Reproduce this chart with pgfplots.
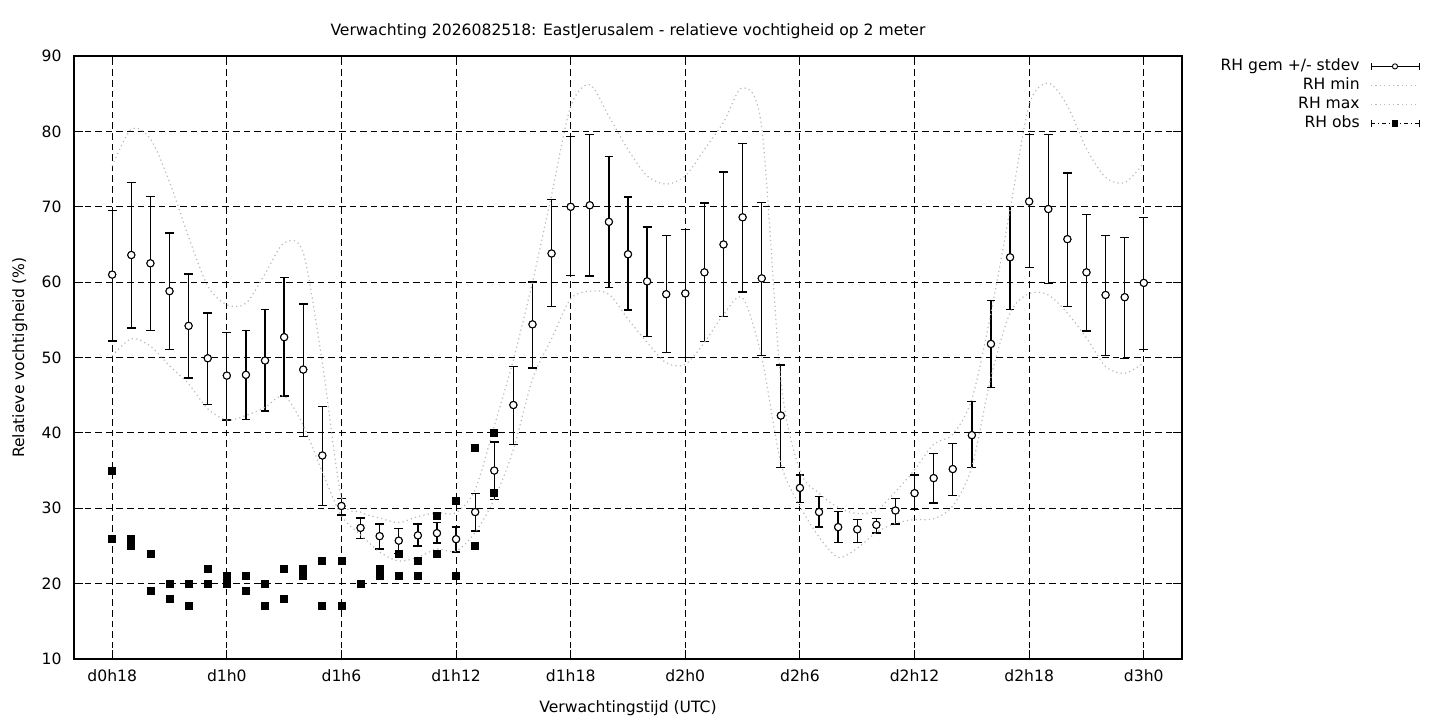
\documentclass[border=0pt]{standalone}
\usepackage{fontspec}
\setmainfont{DejaVu Sans}
\usepackage{pgfplots}
\usepackage{pgfplotstable}
\pgfplotsset{compat=1.18}

\pgfplotstableread{
h mean hi lo
18 61.0 69.5 52.2
19 63.6 73.2 53.9
20 62.5 71.4 53.6
21 58.8 66.5 51.1
22 54.2 61.1 47.3
23 49.9 55.9 43.8
24 47.6 53.3 41.7
25 47.7 53.6 41.8
26 49.6 56.4 42.9
27 52.7 60.6 44.9
28 48.4 57.1 39.5
29 37.0 43.5 30.4
30 30.3 31.3 29.1
31 27.4 28.7 26.0
32 26.3 27.9 24.6
33 25.7 27.3 24.0
34 26.4 27.9 25.0
35 26.7 28.1 25.4
36 25.9 27.5 24.2
37 29.5 32.0 27.0
38 35.0 38.8 31.2
39 43.7 48.8 38.5
40 54.4 60.0 48.6
41 63.8 71.0 56.8
42 70.0 79.3 60.9
43 70.2 79.6 60.8
44 68.0 76.7 59.3
45 63.7 71.3 56.3
46 60.1 67.3 52.8
47 58.4 66.2 50.7
48 58.5 67.0 50.0
49 61.3 70.5 52.1
50 65.0 74.6 55.4
51 68.6 78.4 58.7
52 60.5 70.6 50.3
53 42.3 49.0 35.4
54 32.7 34.4 30.8
55 29.5 31.6 27.5
56 27.5 29.6 25.5
57 27.2 28.5 25.5
58 27.8 28.6 26.7
59 29.7 31.3 27.9
60 32.0 34.4 29.8
61 34.0 37.3 30.7
62 35.2 38.6 31.7
63 39.7 44.2 35.4
64 51.8 57.6 46.0
65 63.3 70.0 56.4
66 70.7 79.6 61.9
67 69.7 79.6 59.8
68 65.7 74.5 56.8
69 61.3 69.0 53.5
70 58.3 66.2 50.3
71 58.0 65.9 49.9
72 59.9 68.6 51.1
}\meantab

\pgfplotstableread{
h min max
18 50.2 75.4
19 52.5 80.3
20 51.5 79.0
21 48.9 73.3
22 46.5 66.0
23 43.2 59.5
24 41.7 57.0
25 42.3 57.2
26 43.4 61.1
27 44.9 65.2
28 41.0 63.9
29 34.8 49.3
30 29.0 31.5
31 26.5 29.5
32 24.2 28.7
33 23.0 28.1
34 23.5 28.9
35 24.6 29.4
36 24.3 29.4
37 26.8 32.5
38 31.2 40.9
39 37.8 49.7
40 47.1 60.0
41 52.5 71.6
42 57.8 83.3
43 58.8 86.2
44 58.4 82.0
45 55.1 77.6
46 52.0 74.1
47 49.3 73.0
48 49.1 74.1
49 52.0 77.6
50 55.7 81.2
51 57.9 85.8
52 50.0 80.5
53 36.0 47.0
54 30.3 35.0
55 26.2 32.0
56 23.5 30.1
57 24.7 29.3
58 26.8 29.7
59 28.0 32.2
60 28.5 35.1
61 28.6 38.5
62 30.3 39.8
63 35.5 44.5
64 47.4 55.9
65 55.9 69.6
66 58.5 83.5
67 58.3 86.4
68 55.9 83.4
69 52.6 77.7
70 48.8 73.9
71 47.9 73.2
72 49.3 75.8
}\mmtab

\pgfplotstableread{
h v
18 35
18 26
19 26
19 25
20 24
20 19
21 20
21 18
22 20
22 17
23 22
23 20
24 21
24 20
25 21
25 19
26 20
26 17
27 22
27 18
28 22
28 21
29 23
29 17
30 23
30 17
31 20
32 22
32 21
33 24
33 21
34 23
34 21
35 29
35 24
36 31
36 21
37 38
37 25
38 40
38 32
}\obstab

\definecolor{mmgray}{RGB}{185,185,185}

\begin{document}
\fontsize{7.8}{9.4}\selectfont
\begin{tikzpicture}
\path[use as bounding box] (0,0) rectangle (720pt,360pt);
\begin{axis}[
  at={(37pt,30.5pt)}, anchor=south west,
  scale only axis, width=554pt, height=301.5pt,
  xmin=16, xmax=74, ymin=10, ymax=90,
  xtick={18,24,...,72},
  xticklabels={d0h18,d1h0,d1h6,d1h12,d1h18,d2h0,d2h6,d2h12,d2h18,d3h0},
  ytick={10,20,...,90},
  /pgf/number format/assume math mode=true,
  grid=major,
  major grid style={black, line width=0.5pt, dash pattern=on 3.3pt off 2pt},
  axis line style={black, line width=0.6pt},
  tick style={black, line width=0.5pt},
  major tick length=4.5pt,
  tick align=inside,
  xticklabel style={anchor=base, yshift=-11pt},
  yticklabel style={anchor=east, xshift=-3.4pt},
  title={Verwachting 2026082518: EastJerusalem - relatieve vochtigheid op 2 meter},
  title style={at={(0.5,1)}, anchor=base, yshift=4.5pt},
  xlabel={Verwachtingstijd (UTC)},
  xlabel style={at={(0.5,0)}, anchor=base, yshift=-26.5pt},
  ylabel={Relatieve vochtigheid (\%)},
  ylabel style={at={(axis description cs:-0.0451,0.5)}, anchor=base},
  legend cell align=right,
  legend plot pos=right,
  legend style={draw=none, fill=none, at={(rel axis cs:1.2148,0.9992)}, anchor=north east,
    inner sep=0pt, row sep=0pt, column sep=4.5pt,
    nodes={inner sep=0.85pt, text height=6pt, text depth=1.8pt}},
]
\addplot[black, only marks, mark=o, mark size=1.8pt, mark options={fill=white, line width=0.5pt},
  error bars/.cd, y dir=both, y explicit, error mark=|,
  error bar style={line width=0.65pt, black},
  error mark options={black, mark size=2.2pt, line width=0.65pt},
  /pgfplots/.cd,
  legend image code/.code={
    \draw[black, line width=0.5pt] (0pt,0pt) -- (24pt,0pt);
    \draw[black, line width=0.5pt] (0pt,-1.6pt) -- (0pt,1.6pt);
    \draw[black, line width=0.5pt] (24pt,-1.6pt) -- (24pt,1.6pt);
    \draw[black, fill=white, line width=0.45pt] (12pt,0pt) circle (1.3pt);}
  ]
  table[x=h, y=mean, y error plus expr=\thisrow{hi}-\thisrow{mean}, y error minus expr=\thisrow{mean}-\thisrow{lo}]{\meantab};
\addlegendentry{RH gem +/- stdev}
\addplot[mmgray, line width=0.6pt, dash pattern=on 0.6pt off 1.6pt, smooth, tension=0.5,
  legend image code/.code={\draw[mmgray, line width=0.6pt, dash pattern=on 0.6pt off 1.6pt] (0pt,0pt) -- (24pt,0pt);}]
  table[x=h, y=min]{\mmtab};
\addlegendentry{RH min}
\addplot[mmgray, line width=0.6pt, dash pattern=on 0.6pt off 1.6pt, smooth, tension=0.5,
  legend image code/.code={\draw[mmgray, line width=0.6pt, dash pattern=on 0.6pt off 1.6pt] (0pt,0pt) -- (24pt,0pt);}]
  table[x=h, y=max]{\mmtab};
\addlegendentry{RH max}
\addplot[black, only marks, mark=square*, mark size=1.75pt,
  legend image code/.code={
    \draw[black, line width=0.5pt, dash pattern=on 2pt off 1.5pt on 0.5pt off 1.5pt] (0pt,0pt) -- (24pt,0pt);
    \draw[black, line width=0.5pt] (0pt,-1.6pt) -- (0pt,1.6pt);
    \draw[black, line width=0.5pt] (24pt,-1.6pt) -- (24pt,1.6pt);
    \fill[black] (10.6pt,-1.4pt) rectangle (13.4pt,1.4pt);}]
  table[x=h, y=v]{\obstab};
\addlegendentry{RH obs}
\addplot[black, only marks, mark=*, mark size=1.8pt, mark options={fill=white, draw=black, line width=0.5pt}, forget plot]
  table[x=h, y=mean]{\meantab};
\end{axis}
\end{tikzpicture}
\end{document}
